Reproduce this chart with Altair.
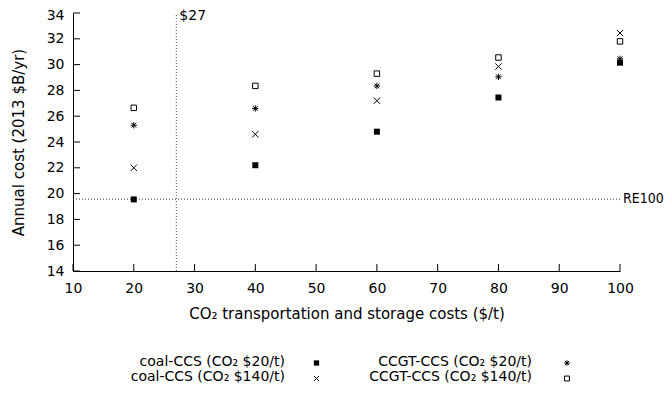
import altair as alt
import pandas as pd

# ---- data ----
transport_cost = [20, 40, 60, 80, 100]
series_names = [
    "coal-CCS (CO₂ $20/t)",
    "coal-CCS (CO₂ $140/t)",
    "CCGT-CCS (CO₂ $20/t)",
    "CCGT-CCS (CO₂ $140/t)",
]
coal_20 = [19.55, 22.2, 24.8, 27.45, 30.15]
coal_140 = [22.0, 24.6, 27.2, 29.85, 32.45]
ccgt_20 = [25.3, 26.6, 28.35, 29.05, 30.45]
ccgt_140 = [26.65, 28.35, 29.3, 30.55, 31.8]
series_values = [coal_20, coal_140, ccgt_20, ccgt_140]

re100_cost = 19.57
breakeven_price = 27
x_ticks = [10, 20, 30, 40, 50, 60, 70, 80, 90, 100]
y_ticks = [14, 16, 18, 20, 22, 24, 26, 28, 30, 32, 34]

FONT = "DejaVu Sans"
W, H = 547, 258

rows = []
for name, vals in zip(series_names, series_values):
    for xv, yv in zip(transport_cost, vals):
        rows.append({"series": name, "cost": xv, "annual": yv})
df = pd.DataFrame(rows)

xscale = alt.Scale(domain=[10, 100], nice=False, zero=False)
yscale = alt.Scale(domain=[14, 34], nice=False, zero=False)

x_axis = alt.Axis(title="CO₂ transportation and storage costs ($/t)",
                  values=x_ticks, ticks=False, tickSize=0,
                  labelOverlap=False, labelFlush=False,
                  labelPadding=10, titlePadding=11)
y_axis = alt.Axis(title="Annual cost (2013 $B/yr)",
                  values=y_ticks, ticks=False, tickSize=0,
                  labelOverlap=False, labelFlush=False,
                  labelOffset=alt.condition("datum.value == 34",
                                            alt.value(2), alt.value(0)),
                  labelPadding=9, titlePadding=20)


def xq(field):
    return alt.X(field, type="quantitative", scale=xscale, axis=x_axis)


def yq(field):
    return alt.Y(field, type="quantitative", scale=yscale, axis=y_axis)


X_PATH = "M-1,-1L1,1M-1,1L1,-1"
AST_PATH = "M-1,0L1,0M0,-1L0,1M-0.75,-0.75L0.75,0.75M-0.75,0.75L0.75,-0.75"
styles = [
    dict(shape="square", filled=True, size=36, strokeWidth=0),
    dict(shape=X_PATH, filled=False, size=40, strokeWidth=1),
    dict(shape=AST_PATH, filled=False, size=40, strokeWidth=1),
    dict(shape="square", filled=False, size=30, strokeWidth=1),
]
legend_styles = [
    dict(shape="square", filled=True, size=28, strokeWidth=0),
    dict(shape=X_PATH, filled=False, size=26, strokeWidth=1),
    dict(shape=AST_PATH, filled=False, size=30, strokeWidth=1),
    dict(shape="square", filled=False, size=24, strokeWidth=1),
]

layers = []

# inward ticks
xt = alt.Chart(pd.DataFrame({"t": x_ticks})).mark_rule(color="black", strokeWidth=1).encode(
    x=xq("t"), y=alt.value(H), y2=alt.value(H - 7))
yt = alt.Chart(pd.DataFrame({"t": y_ticks})).mark_rule(color="black", strokeWidth=1).encode(
    y=yq("t"), x=alt.value(0), x2=alt.value(7))

# reference lines
ref_df = pd.DataFrame({"re": [re100_cost], "xa": [10], "xb": [100],
                       "be": [breakeven_price], "ya": [14], "yb": [34]})
hline = alt.Chart(ref_df).mark_rule(color="#333333", strokeDash=[1, 2], strokeWidth=1).encode(
    y=yq("re"), x=xq("xa"), x2="xb:Q")
vline = alt.Chart(ref_df).mark_rule(color="#555555", strokeDash=[1, 2], strokeWidth=1).encode(
    x=xq("be"), y=yq("ya"), y2="yb:Q")
re_text = alt.Chart(ref_df).mark_text(align="left", baseline="middle", dx=3, fontSize=14,
                                      font="DejaVu Sans Condensed", color="black").encode(
    x=xq("xb"), y=yq("re"), text=alt.value("RE100"))
be_text = alt.Chart(ref_df).mark_text(align="left", baseline="middle", dx=3, dy=3, fontSize=14,
                                      font=FONT, color="black").encode(
    x=xq("be"), y=yq("yb"), text=alt.value("$27"))

# data points
point_layers = []
for name, st in zip(series_names, styles):
    point_layers.append(
        alt.Chart(df).transform_filter(alt.datum.series == name).mark_point(
            color="black", opacity=1, **st).encode(x=xq("cost"), y=yq("annual"))
    )

layers = point_layers + [xt, yt, hline, vline, re_text, be_text]

# manual legend (two columns, label then symbol)
leg_pos = [(212, 349, 243.5, 350), (212, 364, 243.5, 365.5),
           (459, 349, 494, 350), (459, 364, 494, 365.5)]
for name, st, (tx, ty, sx, sy) in zip(series_names, legend_styles, leg_pos):
    ldf = pd.DataFrame({"label": [name]})
    layers.append(alt.Chart(ldf).mark_text(align="right", baseline="middle", fontSize=14,
                                           font=FONT, color="black").encode(
        x=alt.value(tx), y=alt.value(ty), text="label:N"))
    layers.append(alt.Chart(ldf).mark_point(color="black", opacity=1, **st).encode(
        x=alt.value(sx), y=alt.value(sy)))

chart = alt.layer(*layers).properties(
    width=W, height=H,
    autosize=alt.AutoSizeParams(type="none"),
    padding={"left": 65, "top": 5, "right": 44, "bottom": 115},
).configure_view(stroke=None).configure_axis(
    grid=False, domainColor="black", domainWidth=1, labelOverlap=False,
    labelFont=FONT, titleFont=FONT, labelFontSize=14, titleFontSize=15,
    titleFontWeight="normal", labelColor="black", titleColor="black",
)

chart.save("out.html", embed_options={"renderer": "svg", "actions": False})
